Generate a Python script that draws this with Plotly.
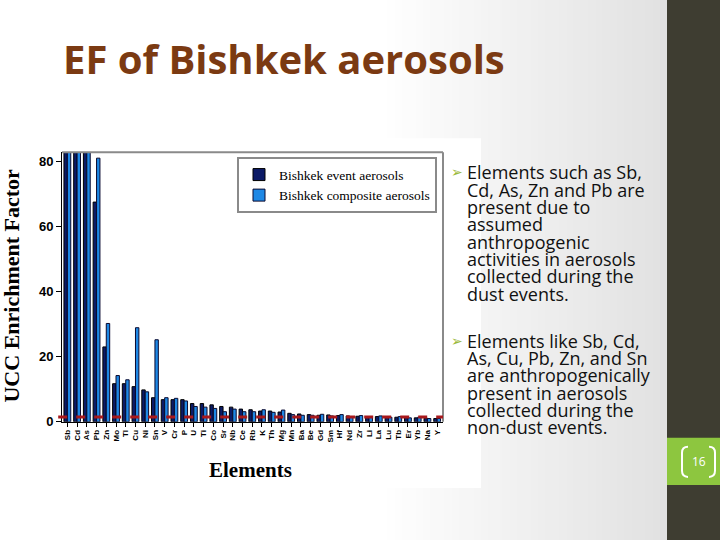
import plotly.graph_objects as go

W, H = 720, 540          # reference frame (pixels)
FIG_H = 549              # figure height (page capture is slightly taller than the window)

elements = ["Sb","Cd","As","Pb","Zn","Mo","Tl","Cu","Ni","Sn","V","Cr","P","U","Ti","Co",
            "Sr","Nb","Ce","Rb","K","Th","Mg","Mn","Ba","Be","Gd","Sm","Hf","Nd","Zr",
            "Li","La","Lu","Tb","Er","Yb","Na","Y"]
event_ef = [410, 260, 190, 67.5, 23.0, 11.7, 11.7, 10.8, 9.8, 7.4, 6.8, 6.8, 6.8, 5.6, 5.6, 5.2,
            4.7, 4.5, 3.9, 3.7, 3.3, 3.3, 3.0, 2.6, 2.4, 2.2, 2.0, 2.1, 1.9, 1.8, 1.7,
            1.6, 1.6, 1.5, 1.4, 1.3, 1.2, 1.1, 1.0]
composite_ef = [160, 120, 96, 81.0, 30.2, 14.2, 12.9, 28.9, 9.2, 25.2, 7.4, 7.2, 6.4, 4.7, 4.5, 4.1,
                3.1, 3.9, 3.1, 3.1, 3.7, 2.9, 3.6, 2.2, 2.0, 2.0, 2.3, 1.8, 2.2, 1.6, 1.9,
                1.5, 1.8, 1.4, 1.6, 1.2, 1.4, 1.0, 1.0]
threshold = 1.5
y_ticks = [0, 20, 40, 60, 80]

title_text = "EF of Bishkek aerosols"
bullet1 = ["Elements such as Sb,", "Cd, As, Zn and Pb are", "present due to", "assumed",
           "anthropogenic", "activities in aerosols", "collected during the", "dust events."]
bullet2 = ["Elements like Sb, Cd,", "As, Cu, Pb, Zn, and Sn", "are anthropogenically",
           "present in aerosols", "collected during the", "non-dust events."]
page_no = "16"


def px(x):
    return x / W


def py(y):
    return 1 - y / H


fig = go.Figure()
fig.add_trace(go.Bar(x=elements, y=event_ef, name="Bishkek event aerosols",
                     marker=dict(color="#0b1a66", line=dict(color="#000000", width=1))))
fig.add_trace(go.Bar(x=elements, y=composite_ef, name="Bishkek composite aerosols",
                     marker=dict(color="#1e88e5", line=dict(color="#0a0a30", width=1))))

shapes = []
# slide background gradient
n = 40
x_start, x_end = 380, 667
for i in range(n):
    x0 = x_start + (x_end - x_start) * i / n
    x1 = x_start + (x_end - x_start) * (i + 1) / n
    t = (i + 0.5) / n
    c = int(round(255 - 30 * t))
    shapes.append(dict(type="rect", xref="paper", yref="paper", x0=px(x0), x1=px(x1) + 0.001,
                       y0=0, y1=1, fillcolor=f"rgb({c},{c},{c})", line=dict(width=0), layer="below"))
# chart picture area (white)
shapes.append(dict(type="rect", xref="paper", yref="paper", x0=px(20), x1=px(481), y0=py(487), y1=py(138),
                   fillcolor="white", line=dict(width=0), layer="below"))
# right dark panel
shapes.append(dict(type="rect", xref="paper", yref="paper", x0=px(667), x1=1, y0=0, y1=1,
                   fillcolor="#3e3d31", line=dict(width=0), layer="below"))
# green page number box
shapes.append(dict(type="rect", xref="paper", yref="paper", x0=px(667), x1=1, y0=py(484), y1=py(437),
                   fillcolor="#8dc63f", line=dict(width=0), layer="above"))
# brackets around page number
shapes.append(dict(type="path", xref="paper", yref="paper",
                   path=f"M {px(688)} {py(446)} Q {px(682)} {py(446)} {px(682)} {py(452)} L {px(682)} {py(470)} Q {px(682)} {py(476)} {px(688)} {py(476)}",
                   line=dict(color="white", width=2), layer="above"))
shapes.append(dict(type="path", xref="paper", yref="paper",
                   path=f"M {px(709)} {py(446)} Q {px(715)} {py(446)} {px(715)} {py(452)} L {px(715)} {py(470)} Q {px(715)} {py(476)} {px(709)} {py(476)}",
                   line=dict(color="white", width=2), layer="above"))
# plot frame top/right (gray)
shapes.append(dict(type="line", xref="x domain", yref="y domain", x0=0, x1=1, y0=1, y1=1,
                   line=dict(color="#8a8a8a", width=2)))
shapes.append(dict(type="line", xref="x domain", yref="y domain", x0=1, x1=1, y0=0, y1=1,
                   line=dict(color="#8a8a8a", width=2)))
# threshold dashed line
shapes.append(dict(type="line", xref="x domain", yref="y", x0=-0.01, x1=1, y0=threshold, y1=threshold,
                   line=dict(color="#a8191c", width=3, dash="dash"), layer="above"))

annotations = []
annotations.append(dict(text=title_text, xref="paper", yref="paper", x=px(61), y=py(58),
                        xanchor="left", yanchor="middle", showarrow=False,
                        font=dict(family="Open Sans", size=40, weight="bold", color="#7b3a12")))
annotations.append(dict(text="UCC Enrichment Factor", xref="paper", yref="paper", x=px(12), y=py(285),
                        xanchor="center", yanchor="middle", textangle=-90, showarrow=False,
                        font=dict(family="Liberation Serif", size=22, weight="bold", color="black")))
annotations.append(dict(text="Elements", xref="paper", yref="paper", x=px(250), y=py(469),
                        xanchor="center", yanchor="middle", showarrow=False,
                        font=dict(family="Liberation Serif", size=21, weight="bold", color="black")))

LINE = 17.3
for lines, y0 in ((bullet1, 172), (bullet2, 340)):
    annotations.append(dict(text="➢", xref="paper", yref="paper", x=px(449), y=py(y0), xanchor="left",
                            yanchor="middle", showarrow=False,
                            font=dict(family="DejaVu Sans", size=14, color="#9ab83a")))
    for k, ln in enumerate(lines):
        annotations.append(dict(text=ln, xref="paper", yref="paper", x=px(465), y=py(y0 + k * LINE),
                                xanchor="left", yanchor="middle", showarrow=False,
                                font=dict(family="Open Sans", size=18, color="#111111")))
annotations.append(dict(text=page_no, xref="paper", yref="paper", x=px(698.5), y=py(461),
                        xanchor="center", yanchor="middle", showarrow=False,
                        font=dict(family="Open Sans", size=12, color="white")))

fig.update_layout(
    width=W, height=FIG_H,
    margin=dict(l=0, r=0, t=0, b=0),
    paper_bgcolor="white",
    plot_bgcolor="white",
    barmode="group",
    bargap=0.3,
    bargroupgap=0.0,
    showlegend=True,
    legend=dict(x=px(237), y=py(157), xanchor="left", yanchor="top",
                bgcolor="white", bordercolor="#8a8a8a", borderwidth=2,
                font=dict(family="Liberation Serif", size=13.5, color="black"),
                tracegroupgap=0, itemwidth=30),
    xaxis=dict(domain=[px(62), px(443)], range=[-0.55, 38.6], showgrid=False,
               showline=True, linecolor="black", linewidth=1,
               tickmode="array", tickvals=elements, ticktext=elements,
               ticks="outside", ticklen=4, tickcolor="black",
               tickangle=-90, tickfont=dict(family="Liberation Sans", size=8, weight="bold", color="black")),
    yaxis=dict(domain=[py(421), py(152)], range=[0, 82.8], showgrid=False,
               showline=True, linecolor="black", linewidth=1, zeroline=False,
               tickvals=y_ticks, ticks="outside", ticklen=5, tickcolor="black",
               tickfont=dict(family="Liberation Sans", size=13, weight="bold", color="black")),
    shapes=shapes,
    annotations=annotations,
)

post = (
    "document.body.style.margin='0';"
    "document.body.style.background='#3e3d31';"
)
fig.write_html("out.html", config={"displayModeBar": False}, post_script=post)
